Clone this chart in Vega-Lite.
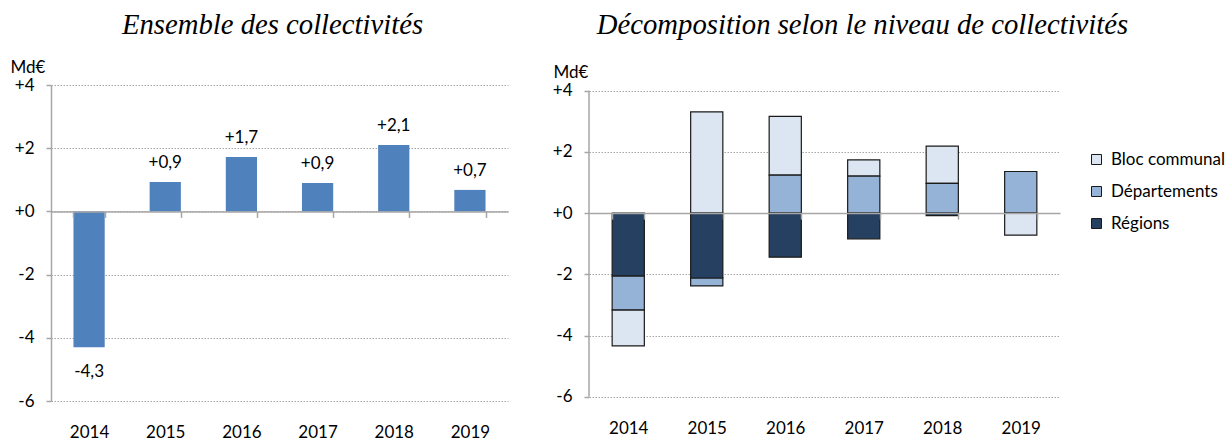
{
  "$schema": "https://vega.github.io/schema/vega-lite/v6.json",
  "background": "white",
  "padding": {"left": 10, "top": 11, "right": 0, "bottom": 0},
  "spacing": 44,
  "config": {
    "view": {"stroke": null},
    "font": "Lato",
    "axis": {
      "labelFont": "Lato", "labelFontSize": 17, "labelColor": "#000000",
      "titleFont": "Lato", "titleFontSize": 17, "titleFontWeight": "normal", "titleColor": "#000000",
      "domainColor": "#a6a6a6", "tickColor": "#a6a6a6", "domainWidth": 1.5, "tickWidth": 1.5,
      "gridColor": "#a6a6a6", "gridDash": [1.5, 1.5], "gridWidth": 1
    },
    "title": {"font": "Liberation Serif", "fontStyle": "italic", "fontSize": 28.7, "fontWeight": "normal", "color": "#000000", "anchor": "middle", "frame": "group", "baseline": "alphabetic"},
    "legend": {"labelFont": "Lato", "labelFontSize": 17, "labelColor": "#000000", "padding": 0}
  },
  "hconcat": [
    {
      "width": 457,
      "height": 316,
      "title": {"text": "Ensemble des collectivités", "dx": -7, "offset": 18},
      "data": {"values": [
        {"year": "2014", "value": -4.3, "label": "-4,3"},
        {"year": "2015", "value": 0.93, "label": "+0,9"},
        {"year": "2016", "value": 1.72, "label": "+1,7"},
        {"year": "2017", "value": 0.9, "label": "+0,9"},
        {"year": "2018", "value": 2.1, "label": "+2,1"},
        {"year": "2019", "value": 0.68, "label": "+0,7"}
      ]},
      "encoding": {
        "x": {
          "field": "year", "type": "nominal", "sort": null,
          "scale": {"paddingInner": 0.59, "paddingOuter": 0.295},
          "axis": {"title": null, "labelAngle": 0, "orient": "bottom", "offset": -189.6, "tickBand": "extent", "tickSize": 6, "labelPadding": 207, "labelBaseline": "top", "domain": true, "ticks": true, "grid": false, "zindex": 1}
        },
        "y": {
          "field": "value", "type": "quantitative",
          "scale": {"domain": [-6, 4], "nice": false, "zero": false},
          "axis": {"title": "Md€", "titleAngle": 0, "titleAlign": "left", "titleBaseline": "alphabetic", "titleX": -41, "titleY": -13, "values": [-6, -4, -2, 0, 2, 4], "labelExpr": "(datum.value >= 0 ? '+' : '-') + abs(datum.value)", "tickSize": 5, "labelPadding": 12, "grid": true, "domain": true, "zindex": 0}
        }
      },
      "layer": [
        {"mark": {"type": "bar", "color": "#4F81BD"}},
        {
          "transform": [{"filter": "datum.value >= 0"}],
          "mark": {"type": "text", "dy": -14, "baseline": "alphabetic", "font": "Lato", "fontSize": 17, "color": "#000000"},
          "encoding": {"text": {"field": "label"}}
        },
        {
          "transform": [{"filter": "datum.value < 0"}],
          "mark": {"type": "text", "dy": 30, "baseline": "alphabetic", "font": "Lato", "fontSize": 17, "color": "#000000"},
          "encoding": {"text": {"field": "label"}}
        }
      ]
    },
    {
      "width": 471,
      "height": 316,
      "title": {"text": "Décomposition selon le niveau de collectivités", "dx": 38, "offset": 23},
      "data": {"values": [
        {"year": "2014", "niveau": "Bloc communal", "value": -1.18},
        {"year": "2014", "niveau": "Départements", "value": -1.11},
        {"year": "2014", "niveau": "Régions", "value": -2.05},
        {"year": "2015", "niveau": "Bloc communal", "value": 3.31},
        {"year": "2015", "niveau": "Départements", "value": -0.26},
        {"year": "2015", "niveau": "Régions", "value": -2.12},
        {"year": "2016", "niveau": "Bloc communal", "value": 1.92},
        {"year": "2016", "niveau": "Départements", "value": 1.24},
        {"year": "2016", "niveau": "Régions", "value": -1.44},
        {"year": "2017", "niveau": "Bloc communal", "value": 0.53},
        {"year": "2017", "niveau": "Départements", "value": 1.21},
        {"year": "2017", "niveau": "Régions", "value": -0.84},
        {"year": "2018", "niveau": "Bloc communal", "value": 1.22},
        {"year": "2018", "niveau": "Départements", "value": 0.97},
        {"year": "2018", "niveau": "Régions", "value": -0.08},
        {"year": "2019", "niveau": "Bloc communal", "value": -0.72},
        {"year": "2019", "niveau": "Départements", "value": 1.36},
        {"year": "2019", "niveau": "Régions", "value": 0}
      ]},
      "layer": [
        {
          "mark": {"type": "bar", "stroke": "#1a1a1a", "strokeWidth": 1.2},
          "encoding": {
            "x": {
              "field": "year", "type": "nominal", "sort": null,
              "scale": {"paddingInner": 0.59, "paddingOuter": 0.295},
              "axis": {"title": null, "labelAngle": 0, "orient": "bottom", "offset": -187.9, "tickBand": "extent", "tickSize": 6, "labelPadding": 201.4, "labelBaseline": "top", "domain": true, "ticks": true, "grid": false, "zindex": 1}
            },
            "y": {
              "field": "value", "type": "quantitative", "stack": "zero",
              "scale": {"domain": [-6.14, 4.186], "nice": false, "zero": false},
              "axis": {"title": "Md€", "titleAngle": 0, "titleAlign": "left", "titleBaseline": "alphabetic", "titleX": -36, "titleY": -8, "values": [-6, -4, -2, 0, 2, 4], "labelExpr": "(datum.value >= 0 ? '+' : '-') + abs(datum.value)", "tickSize": 5, "labelPadding": 12, "grid": true, "domain": false, "zindex": 0}
            },
            "color": {
              "field": "niveau", "type": "nominal",
              "scale": {"domain": ["Bloc communal", "Départements", "Régions"], "range": ["#DCE6F2", "#95B3D7", "#254061"]},
              "legend": {"orient": "none", "legendX": 1037, "legendY": 66, "title": null, "symbolType": "square", "symbolSize": 100, "symbolStrokeColor": "#1a1a1a", "symbolStrokeWidth": 1, "symbolOpacity": 1, "labelOffset": 6, "rowPadding": 14}
            },
            "order": {"field": "niveau", "sort": "descending"}
          }
        },
        {
          "data": {"values": [{"year": "2014", "lo": -6, "hi": 4}]},
          "mark": {"type": "rule", "color": "#a6a6a6", "strokeWidth": 1.5},
          "encoding": {
            "x": {"field": "year", "type": "nominal", "bandPosition": -0.7195},
            "y": {"field": "lo", "type": "quantitative"},
            "y2": {"field": "hi"}
          }
        }
      ]
    }
  ]
}
